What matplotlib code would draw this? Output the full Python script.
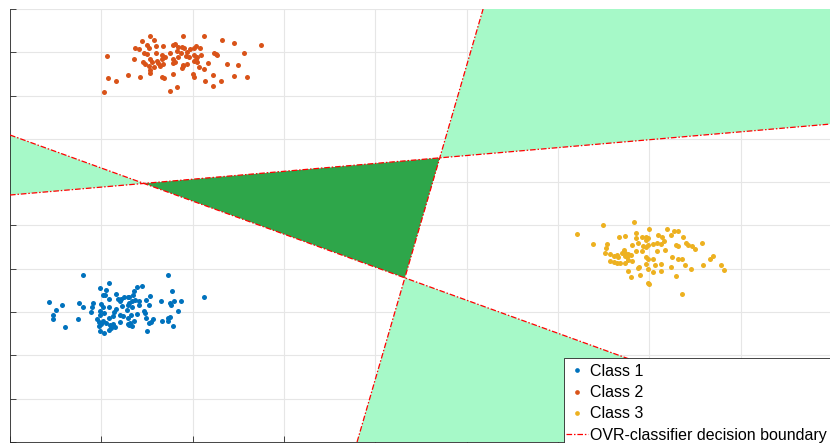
import numpy as np
import matplotlib.pyplot as plt
from matplotlib.lines import Line2D
from matplotlib.patches import Rectangle

plt.rcParams['font.family'] = ['Liberation Sans', 'DejaVu Sans']

# samples of the three classes
class1_x = [0.80, 1.08, 0.99, 1.05, 1.02, 1.04, 1.08, 1.16, 1.18, 1.20, 1.22, 1.25, 1.29,
            0.43, 0.57, 0.50, 0.47, 0.47, 0.60, 0.76, 0.80, 0.75, 0.91, 0.90, 0.89, 1.00,
            1.02, 0.99, 1.03, 0.99, 1.08, 1.14, 1.16, 1.23, 1.29, 1.08, 1.13, 1.20, 1.24,
            0.95, 0.98, 1.02, 1.05, 0.97, 1.00, 1.09, 1.13, 1.20, 1.29, 0.99, 1.03, 1.08,
            1.11, 1.15, 1.73, 2.13, 1.77, 1.45, 1.39, 1.36, 1.35, 1.37, 1.41, 1.41, 1.34,
            1.30, 1.30, 1.53, 1.49, 1.52, 1.47, 1.65, 1.75, 1.80, 1.87, 1.76, 1.84, 1.28,
            1.34, 1.39, 1.33, 1.36, 1.31, 1.29, 1.30, 1.34, 1.48, 1.49, 1.57, 1.52, 1.54,
            1.50, 1.66, 1.73, 1.75, 1.73, 1.78]
class1_y = [3.85, 3.67, 3.56, 3.52, 3.40, 3.39, 3.31, 3.42, 3.31, 3.26, 3.31, 3.36, 3.34,
            3.23, 3.16, 3.06, 2.94, 2.84, 2.66, 3.22, 3.11, 2.85, 3.20, 3.11, 3.00, 3.19,
            3.11, 3.03, 2.99, 2.94, 3.11, 3.00, 3.08, 3.13, 3.16, 2.86, 2.90, 2.93, 2.92,
            2.85, 2.76, 2.79, 2.75, 2.67, 2.73, 2.70, 2.73, 2.77, 2.73, 2.57, 2.52, 2.59,
            2.63, 2.65, 3.86, 3.34, 3.48, 3.60, 3.57, 3.48, 3.39, 3.29, 3.25, 3.17, 3.25,
            3.34, 3.22, 3.37, 3.29, 3.17, 3.03, 3.25, 3.21, 3.26, 3.26, 3.16, 3.03, 3.06,
            3.11, 2.96, 2.94, 2.79, 2.75, 2.86, 2.70, 2.67, 2.98, 2.86, 2.85, 2.75, 2.77,
            2.57, 2.80, 2.86, 2.88, 2.80, 2.67]

class2_x = [1.53, 1.58, 1.89, 1.45, 1.50, 1.37, 1.41, 1.52, 1.60, 1.68, 1.78, 1.81, 1.84,
            1.88, 1.47, 1.50, 1.60, 1.66, 1.70, 1.75, 1.83, 1.87, 1.06, 1.36, 1.46, 1.48,
            1.53, 1.55, 1.61, 1.62, 1.66, 1.68, 1.78, 1.81, 1.84, 1.52, 1.58, 1.64, 1.79,
            1.89, 1.53, 1.53, 1.79, 1.29, 1.42, 1.66, 1.69, 1.07, 1.16, 1.03, 1.75, 1.83,
            2.13, 2.32, 2.45, 2.75, 2.56, 2.04, 2.08, 2.01, 1.97, 1.94, 1.91, 2.23, 2.26,
            2.27, 1.93, 1.96, 2.02, 2.05, 2.09, 2.04, 2.05, 2.01, 2.17, 2.38, 2.50, 1.94,
            1.90, 1.88, 2.07, 2.13, 2.00, 2.02, 2.22, 2.45, 2.59, 2.14, 2.31, 2.22]
class2_y = [9.38, 9.28, 9.38, 9.25, 9.17, 9.09, 9.07, 9.09, 9.15, 9.15, 9.17, 9.19, 9.12,
            9.13, 8.99, 8.96, 8.99, 8.94, 8.90, 8.98, 9.04, 8.99, 8.92, 8.84, 8.78, 8.73,
            8.84, 8.78, 8.81, 8.75, 8.84, 8.73, 8.84, 8.78, 8.89, 8.68, 8.67, 8.68, 8.75,
            8.71, 8.59, 8.52, 8.49, 8.48, 8.42, 8.42, 8.40, 8.40, 8.34, 8.09, 8.11, 8.21,
            9.38, 9.28, 9.21, 9.17, 8.99, 9.15, 9.09, 9.09, 9.07, 9.01, 9.09, 8.99, 8.96,
            8.94, 8.92, 8.90, 8.93, 8.90, 8.94, 8.84, 8.78, 8.81, 8.76, 8.73, 8.71, 8.73,
            8.68, 8.63, 8.65, 8.61, 8.50, 8.42, 8.48, 8.46, 8.44, 8.34, 8.34, 8.22]

class3_x = [6.83, 6.49, 6.21, 6.39, 6.67, 6.73, 6.85, 6.86, 6.92, 6.97, 6.96, 6.54, 6.53,
            6.52, 6.81, 6.88, 6.93, 6.99, 6.85, 6.72, 6.70, 6.74, 6.77, 6.80, 6.76, 6.73,
            6.57, 6.61, 6.65, 6.66, 6.57, 6.61, 6.65, 6.68, 6.74, 6.81, 6.77, 6.92, 6.97,
            6.96, 6.77, 6.88, 6.89, 6.90, 6.80, 6.99, 6.99, 7.00, 7.20, 7.27, 7.31, 7.24,
            7.10, 7.14, 6.99, 7.37, 7.16, 7.09, 7.04, 7.13, 7.29, 7.32, 7.40, 7.42, 7.47,
            7.50, 7.58, 6.97, 7.09, 7.17, 7.25, 7.04, 6.99, 7.32, 7.36, 7.39, 7.67, 7.70,
            7.06, 7.13, 7.24, 7.59, 7.79, 7.82, 7.46, 7.04, 7.13, 7.29, 7.00, 7.36]
class3_y = [5.08, 5.02, 4.80, 4.57, 4.74, 4.76, 4.82, 4.70, 4.73, 4.74, 4.67, 4.57, 4.47,
            4.37, 4.55, 4.60, 4.53, 4.55, 4.42, 4.43, 4.36, 4.36, 4.34, 4.32, 4.28, 4.30,
            4.34, 4.30, 4.32, 4.27, 4.19, 4.16, 4.14, 4.13, 4.14, 4.19, 4.20, 4.42, 4.27,
            4.11, 3.96, 4.01, 4.04, 3.85, 3.80, 3.99, 3.67, 4.93, 4.91, 4.88, 4.88, 4.79,
            4.78, 4.74, 4.70, 4.73, 4.65, 4.60, 4.57, 4.57, 4.56, 4.53, 4.59, 4.56, 4.53,
            4.45, 4.60, 4.51, 4.40, 4.43, 4.27, 4.22, 4.22, 4.22, 4.22, 4.09, 4.22, 4.30,
            4.09, 4.11, 4.05, 4.09, 4.09, 3.97, 3.99, 3.92, 3.96, 3.83, 3.65, 3.42]

# one-vs-rest linear classifiers: f_k(x, y) = wx*x + wy*y + b, positive side = class k
clf_wx = [-0.763, -0.1824, 7.246]
clf_wy = [-1.0, 1.0, -1.0]
clf_b = [7.09, -5.704, -27.54]

labels = ['Class 1', 'Class 2', 'Class 3']
colors = ['#0072BD', '#D95319', '#EDB120']
xlim = (0, 8.98)
ylim = (0, 10)

W, H = 830, 443
fig = plt.figure(figsize=(W / 100, H / 100), dpi=100)
ax = fig.add_axes([10 / W, 1 / H, 820 / W, 433 / H])
ax.set_xlim(*xlim)
ax.set_ylim(*ylim)

# regions where the OVR vote is ambiguous
gx = np.linspace(xlim[0], xlim[1], 1600)
gy = np.linspace(ylim[0], ylim[1], 1000)
X, Y = np.meshgrid(gx, gy)
votes = np.zeros_like(X)
for wx, wy, b in zip(clf_wx, clf_wy, clf_b):
    votes += (wx * X + wy * Y + b > 0)
ax.contourf(X, Y, (votes == 0).astype(float), levels=[0.5, 1.5], colors=['#2EA64A'], antialiased=True)
ax.contourf(X, Y, (votes >= 2).astype(float), levels=[0.5, 1.5], colors=['#A6F9C8'], antialiased=True)

# decision boundaries
dash = (0, (4.5, 1.5, 1.2, 1.5))
for wx, wy, b in zip(clf_wx, clf_wy, clf_b):
    if abs(wy) >= abs(wx):
        xs = np.array(xlim)
        ys = -(wx * xs + b) / wy
    else:
        ys = np.array(ylim)
        xs = -(wy * ys + b) / wx
    ax.plot(xs, ys, color='red', linestyle=dash, linewidth=0.9, zorder=3)

for cx, cy, c in zip([class1_x, class2_x, class3_x], [class1_y, class2_y, class3_y], colors):
    ax.plot(cx, cy, 'o', color=c, markersize=3.6, markeredgewidth=0, zorder=4)

ax.set_xticks(np.arange(0, 9))
ax.set_yticks(np.arange(0, 11))
ax.set_xticklabels([])
ax.set_yticklabels([])
ax.tick_params(direction='in', length=4, width=0.6, color='#262626')
ax.grid(True, color='#E6E6E6', linewidth=0.8)
ax.set_axisbelow(True)
for side in ['top', 'right']:
    ax.spines[side].set_visible(False)
for side in ['left', 'bottom']:
    ax.spines[side].set_color('#262626')
    ax.spines[side].set_linewidth(0.6)

# legend box runs past the right and bottom edges of the figure
box = Rectangle((564 / W, -20 / H), 300 / W, (443 - 358 + 20) / H, transform=fig.transFigure,
                facecolor='white', edgecolor='#262626', linewidth=0.6, clip_on=False, zorder=4.9)
ax.add_patch(box)

handles = [Line2D([], [], marker='o', linestyle='none', color=c, markersize=3.4,
                  markeredgewidth=0) for c in colors]
handles.append(Line2D([], [], color='red', linestyle=dash, linewidth=0.9))
leg = ax.legend(handles, labels + ['OVR-classifier decision boundary'],
                loc='upper left', bbox_to_anchor=(566 / W, 1 - 364 / H),
                bbox_transform=fig.transFigure, borderaxespad=0, fontsize=11.5,
                frameon=False, borderpad=0, labelspacing=0.39,
                handlelength=1.35, handletextpad=0.15)
leg.set_zorder(5)

plt.savefig('out.png', dpi=100)
